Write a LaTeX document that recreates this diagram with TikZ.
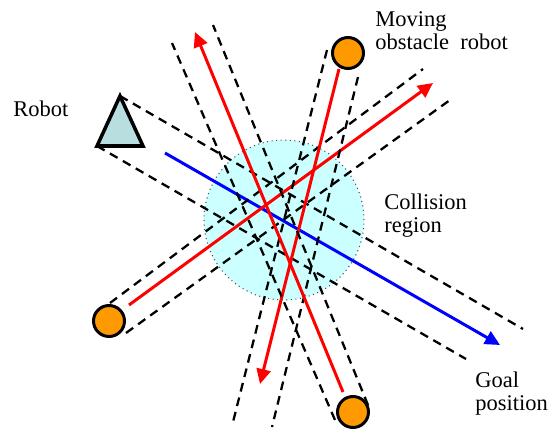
\documentclass[tikz,border=0pt]{standalone}
\usepackage{fontspec}
\setmainfont{Liberation Serif}
\usepackage{xcolor}
\usetikzlibrary{arrows.meta}

\definecolor{regioncyan}{RGB}{204,255,255}
\definecolor{robotteal}{RGB}{184,222,224}
\definecolor{obstorange}{RGB}{255,153,0}

\begin{document}
\begin{tikzpicture}[x=0.02cm, y=-0.02cm,
    lbl/.style={font=\fontsize{12.8}{13}\selectfont, inner sep=0, align=left, anchor=base west},
    corridor/.style={line width=1.3pt, dash pattern=on 5pt off 3.5pt},
    motion/.style={red, line width=1.7pt, -{Triangle[length=8.5pt,width=8pt]}},
    obstacle/.style={circle, draw, line width=1.7pt, fill=obstorange, minimum size=0.62cm, inner sep=0}]
    \useasboundingbox (0,0) rectangle (556,433);

    % Collision region
    \draw[dotted, line width=0.6pt, black!70, fill=regioncyan] (284,220) circle[radius=1.6cm];

    % Robot and its corridor
    \coordinate (robotTop) at (120,96);
    \coordinate (robotLeft) at (97,146);
    \coordinate (robotRight) at (143,146);
    \coordinate (robotStart) at (165,153);
    \coordinate (goal) at (500,345);
    \coordinate (robotEndA) at (523,329);
    \coordinate (robotEndB) at (466,359);
    \draw[corridor] (robotTop) -- (robotEndA);
    \draw[corridor] (robotLeft) -- (robotEndB);
    \draw[blue, line width=1.7pt, -{Triangle[length=8.5pt,width=8pt]}] (robotStart) -- (goal);

    % Obstacle at lower left
    \coordinate (obsL) at (109,321);
    \coordinate (obsLStart) at (129,305);
    \coordinate (obsLTip) at (433,83);
    \draw[corridor] (110,303) -- (423,69);
    \draw[corridor] (126,333) -- (450,100);
    \draw[motion] (obsLStart) -- (obsLTip);

    % Obstacle at top
    \coordinate (obsT) at (348,53);
    \coordinate (obsTStart) at (339,69);
    \coordinate (obsTTip) at (260,384);
    \draw[corridor] (327,50) -- (233,422);
    \draw[corridor] (358,77) -- (272,427);
    \draw[motion] (obsTStart) -- (obsTTip);

    % Obstacle at bottom
    \coordinate (obsB) at (353,412);
    \coordinate (obsBStart) at (343,392);
    \coordinate (obsBTip) at (195,32);
    \draw[corridor] (335,420) -- (172,43);
    \draw[corridor] (368,405) -- (213,25);
    \draw[motion] (obsBStart) -- (obsBTip);

    % Bodies
    \draw[line width=2pt, fill=robotteal, line join=miter] (robotTop) -- (robotRight) -- (robotLeft) -- cycle;
    \node[obstacle] (ballL) at (obsL) {};
    \node[obstacle] (ballT) at (obsT) {};
    \node[obstacle] (ballB) at (obsB) {};

    % Labels (base = last line)
    \node[lbl] (robotLbl) at (13,116) {Robot};
    \node[lbl] (movingLbl) at (375,49) {Moving\\obstacle\ \ robot};
    \node[lbl] (regionLbl) at (384,232) {Collision\\region};
    \node[lbl] (goalLbl) at (475,410) {Goal\\position};
\end{tikzpicture}
\end{document}
